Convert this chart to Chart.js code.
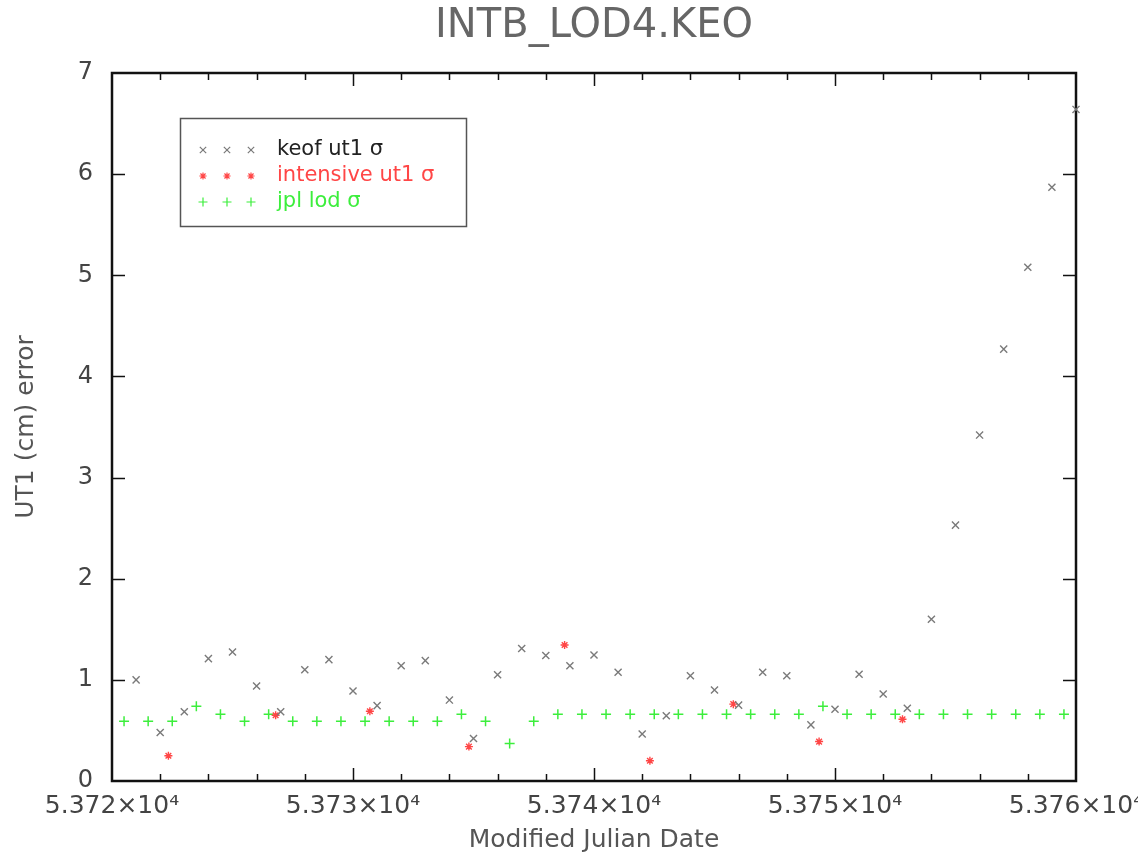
<!DOCTYPE html>
<html>
<head>
<meta charset="utf-8">
<title>INTB_LOD4.KEO</title>
<script src="https://cdn.jsdelivr.net/npm/chart.js@4.4.1/dist/chart.umd.min.js"></script>
<style>
  html, body { margin: 0; padding: 0; background: #fff; overflow: hidden; }
  canvas { display: block; }
</style>
</head>
<body>
<canvas id="chart" width="1138" height="856"></canvas>
<script>
(function () {
  "use strict";

  // keof ut1 sigma, one per day
  const keofMjd = [
    53721, 53722, 53723, 53724, 53725, 53726, 53727, 53728, 53729, 53730,
    53731, 53732, 53733, 53734, 53735, 53736, 53737, 53738, 53739, 53740,
    53741, 53742, 53743, 53744, 53745, 53746, 53747, 53748, 53749, 53750,
    53751, 53752, 53753, 53754, 53755, 53756, 53757, 53758, 53759, 53760
  ];
  const keofSigma = [
    1.00, 0.48, 0.685, 1.21, 1.275, 0.94, 0.685, 1.10, 1.20, 0.89,
    0.745, 1.14, 1.19, 0.80, 0.42, 1.05, 1.31, 1.24, 1.14, 1.245,
    1.075, 0.465, 0.645, 1.04, 0.90, 0.75, 1.075, 1.04, 0.555, 0.71,
    1.055, 0.86, 0.72, 1.60, 2.53, 3.42, 4.27, 5.08, 5.87, 6.64
  ];

  // intensive ut1 sigma
  const intensiveMjd = [53722.34, 53726.79, 53730.7, 53734.81, 53738.78, 53742.32, 53745.78, 53749.34, 53752.8];
  const intensiveSigma = [0.25, 0.65, 0.69, 0.34, 1.345, 0.20, 0.76, 0.39, 0.61];

  // jpl lod sigma, half days
  const jplMjd = [
    53720.5, 53721.5, 53722.5, 53723.5, 53724.5, 53725.5, 53726.5, 53727.5, 53728.5, 53729.5,
    53730.5, 53731.5, 53732.5, 53733.5, 53734.5, 53735.5, 53736.5, 53737.5, 53738.5, 53739.5,
    53740.5, 53741.5, 53742.5, 53743.5, 53744.5, 53745.5, 53746.5, 53747.5, 53748.5, 53749.5,
    53750.5, 53751.5, 53752.5, 53753.5, 53754.5, 53755.5, 53756.5, 53757.5, 53758.5, 53759.5
  ];
  const jplSigma = [
    0.59, 0.59, 0.59, 0.74, 0.66, 0.59, 0.66, 0.59, 0.59, 0.59,
    0.59, 0.59, 0.59, 0.59, 0.66, 0.59, 0.37, 0.59, 0.66, 0.66,
    0.66, 0.66, 0.66, 0.66, 0.66, 0.66, 0.66, 0.66, 0.66, 0.74,
    0.66, 0.66, 0.66, 0.66, 0.66, 0.66, 0.66, 0.66, 0.66, 0.66
  ];

  const xMin = 53720, xMax = 53760;
  const yMin = 0, yMax = 7;
  const seriesNames = ["keof ut1 \u03c3", "intensive ut1 \u03c3", "jpl lod \u03c3"];

  const FONT = "'DejaVu Sans', sans-serif";
  const GRAY = "#7a7a7a", RED = "#ff4646", GREEN = "#3cee3c";

  function pairs(xs, ys) {
    return xs.map(function (x, i) { return { x: x, y: ys[i] }; });
  }

  // frame with inward ticks on all four sides
  const framePlugin = {
    id: "frame",
    beforeDatasetsDraw(chart) {
      const { ctx, chartArea: a, scales: { x, y } } = chart;
      ctx.save();
      ctx.strokeStyle = "#111";
      ctx.lineWidth = 1.5;
      ctx.beginPath();
      for (let v = xMin + 2; v < xMax; v += 2) {
        const px = Math.round(x.getPixelForValue(v)) + 0.5;
        const len = (v - xMin) % 10 === 0 ? 13 : 7;
        ctx.moveTo(px, a.bottom); ctx.lineTo(px, a.bottom - len);
        ctx.moveTo(px, a.top); ctx.lineTo(px, a.top + len);
      }
      for (let v = yMin + 1; v < yMax; v++) {
        const py = Math.round(y.getPixelForValue(v)) + 0.5;
        ctx.moveTo(a.left, py); ctx.lineTo(a.left + 13, py);
        ctx.moveTo(a.right, py); ctx.lineTo(a.right - 13, py);
      }
      ctx.stroke();
      ctx.lineWidth = 2.5;
      ctx.strokeRect(a.left, a.top, a.right - a.left, a.bottom - a.top);
      ctx.restore();
    }
  };

  const titlePlugin = {
    id: "plotTitle",
    afterDraw(chart) {
      const ctx = chart.ctx;
      ctx.save();
      ctx.font = "40px " + FONT;
      ctx.fillStyle = "#666";
      ctx.textAlign = "center";
      ctx.textBaseline = "middle";
      ctx.fillText("INTB_LOD4.KEO", 594, 27);
      ctx.restore();
    }
  };

  // boxed legend: three markers then the label
  const legendPlugin = {
    id: "boxLegend",
    afterDraw(chart) {
      const ctx = chart.ctx;
      const textColors = ["#222", RED, GREEN];
      ctx.save();
      ctx.strokeStyle = "#555";
      ctx.lineWidth = 1.5;
      ctx.strokeRect(180.5, 118.5, 286, 108);
      ctx.font = "21px " + FONT;
      ctx.textBaseline = "middle";
      chart.data.datasets.forEach(function (ds, i) {
        const yRow = 150 + i * 26;
        [203, 227, 251].forEach(function (xm) {
          ctx.strokeStyle = ds.borderColor;
          ctx.fillStyle = ds.backgroundColor;
          ctx.lineWidth = 1.2;
          Chart.helpers.drawPoint(ctx, {
            pointStyle: ds.pointStyle,
            radius: ds.pointRadius * 0.9,
            rotation: 0,
            borderWidth: 1.2
          }, xm, yRow);
        });
        ctx.fillStyle = textColors[i];
        ctx.fillText(seriesNames[i], 277, yRow);
      });
      ctx.restore();
    }
  };

  const ctx = document.getElementById("chart").getContext("2d");
  const chart = new Chart(ctx, {
    type: "scatter",
    data: {
      datasets: [
        {
          label: seriesNames[0],
          data: pairs(keofMjd, keofSigma),
          pointStyle: "crossRot",
          pointRadius: 5,
          borderColor: GRAY,
          backgroundColor: GRAY,
          borderWidth: 1.4,
          clip: 10
        },
        {
          label: seriesNames[1],
          data: pairs(intensiveMjd, intensiveSigma),
          pointStyle: "star",
          pointRadius: 4,
          borderColor: RED,
          backgroundColor: RED,
          borderWidth: 1.4,
          clip: 10
        },
        {
          label: seriesNames[2],
          data: pairs(jplMjd, jplSigma),
          pointStyle: "cross",
          pointRadius: 5,
          borderColor: GREEN,
          backgroundColor: GREEN,
          borderWidth: 1.5,
          clip: 10
        }
      ]
    },
    options: {
      responsive: false,
      animation: false,
      layout: { padding: { top: 73, right: 62, left: 0, bottom: 0 } },
      plugins: {
        legend: { display: false },
        tooltip: { enabled: false },
        title: { display: false }
      },
      scales: {
        x: {
          type: "linear",
          min: xMin,
          max: xMax,
          grid: { display: false, drawTicks: false },
          border: { display: false },
          ticks: {
            stepSize: 10,
            autoSkip: false,
            maxRotation: 0,
            padding: 10,
            color: "#444",
            font: { family: FONT, size: 25 },
            callback: function (v) { return (v / 1e4).toFixed(3) + "\u00d710\u2074"; }
          },
          title: {
            display: true,
            text: "Modified Julian Date",
            color: "#555",
            font: { family: FONT, size: 25 },
            padding: { top: 0, bottom: 1 }
          },
          afterFit(s) { s.height = 75; s.paddingLeft = 0; s.paddingRight = 0; }
        },
        y: {
          min: yMin,
          max: yMax,
          grid: { display: false, drawTicks: false },
          border: { display: false },
          ticks: {
            stepSize: 1,
            padding: 19,
            color: "#444",
            font: { family: FONT, size: 24 }
          },
          title: {
            display: true,
            text: "UT1 (cm) error",
            color: "#555",
            font: { family: FONT, size: 25 },
            padding: { top: 11, bottom: 0 }
          },
          afterFit(s) { s.width = 112; s.paddingTop = 0; s.paddingBottom = 0; }
        }
      }
    },
    plugins: [framePlugin, titlePlugin, legendPlugin]
  });
})();
</script>
</body>
</html>
